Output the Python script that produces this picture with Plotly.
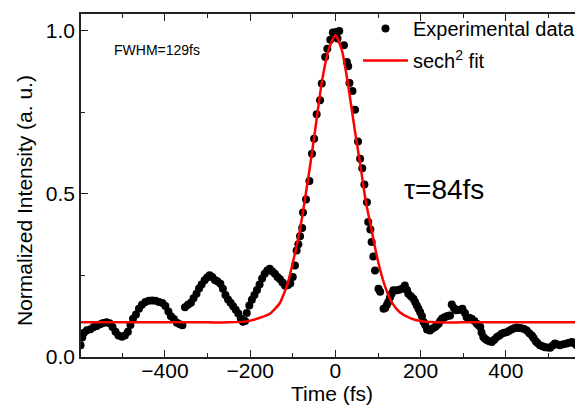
import plotly.graph_objects as go

# Experimental autocorrelation data (time in fs, normalized intensity)
time_fs = [
    -598, -594, -590, -583, -575, -567, -560, -552, -545, -537, -530, -523, -516, -509,
    -501, -494, -487, -481, -475, -468, -461, -454, -446, -438, -430, -422, -414, -406,
    -399, -392, -386, -379, -372, -365, -359, -353, -346, -339, -333, -326, -320, -314,
    -307, -301, -295, -289, -283, -277, -270, -264, -258, -252, -246, -240, -234, -228,
    -222, -217, -212, -208, -202, -196, -190, -184, -178, -172, -166, -160, -154, -148,
    -142, -136, -130, -124, -118, -112, -106, -100, -95, -91, -87, -83, -78,
    -76, -69, -61, -55, -50, -44, -36, -32, -24, -19, -12, -6, 2, 5, 9, 20, 27, 30, 33,
    40, 46, 53, 58, 63, 68, 74, 77, 82, 85, 89, 93, 101, 105, 113, 117, 121, 124, 128,
    132, 136, 144, 150, 156, 163, 168, 171, 177, 183, 187, 191, 195, 199, 203, 207, 211,
    215, 222, 228, 234, 238, 242, 246, 250, 255, 260, 265, 269, 273, 278, 283, 288, 293,
    298, 304, 308, 314, 320, 326, 332, 336, 340, 343, 347, 351, 356, 361, 367, 373, 379,
    385, 390, 396, 402, 408, 414, 420, 426, 431, 437, 443, 449, 455, 461, 465, 470, 474,
    480, 486, 492, 498, 504, 510, 515, 521, 527, 535, 543, 549, 555, 561, 566, 572, 578,
]
intensity = [
    0.036, 0.060, 0.074, 0.082, 0.085, 0.092, 0.095, 0.100, 0.104, 0.106, 0.103, 0.092, 0.077, 0.066,
    0.062, 0.066, 0.077, 0.098, 0.117, 0.130, 0.148, 0.160, 0.168, 0.172, 0.173, 0.172, 0.168, 0.165,
    0.156, 0.139, 0.125, 0.116, 0.105, 0.100, 0.097, 0.152, 0.160, 0.166, 0.180, 0.194, 0.210, 0.222,
    0.235, 0.243, 0.250, 0.245, 0.236, 0.232, 0.224, 0.209, 0.190, 0.176, 0.166, 0.155, 0.145, 0.133,
    0.118, 0.108, 0.110, 0.135, 0.158, 0.175, 0.190, 0.205, 0.222, 0.240, 0.255, 0.265, 0.270, 0.262,
    0.255, 0.245, 0.238, 0.228, 0.218, 0.220, 0.225, 0.245, 0.280, 0.326, 0.345, 0.370, 0.395,
    0.442, 0.482, 0.539, 0.622, 0.668, 0.743, 0.786, 0.837, 0.918, 0.944, 0.971, 0.993, 0.995, 0.975, 0.998, 0.954, 0.903, 0.890, 0.839,
    0.814, 0.757, 0.660, 0.607, 0.578, 0.528, 0.474, 0.413, 0.390, 0.352, 0.308, 0.265, 0.209, 0.200, 0.148, 0.150, 0.160, 0.168, 0.182,
    0.194, 0.204, 0.204, 0.206, 0.209, 0.219, 0.205, 0.194, 0.186, 0.178, 0.168, 0.158, 0.148, 0.137, 0.125, 0.107, 0.097,
    0.084, 0.081, 0.087, 0.092, 0.097, 0.102, 0.110, 0.117, 0.121, 0.124, 0.126, 0.127, 0.161, 0.150, 0.143, 0.144, 0.145,
    0.148, 0.135, 0.122, 0.120, 0.117, 0.110, 0.102, 0.097, 0.092, 0.075, 0.061, 0.056, 0.051, 0.048, 0.046, 0.053, 0.061,
    0.066, 0.071, 0.074, 0.076, 0.080, 0.085, 0.088, 0.090, 0.089, 0.088, 0.086, 0.081, 0.073, 0.066, 0.058, 0.048, 0.043,
    0.036, 0.033, 0.030, 0.029, 0.028, 0.035, 0.041, 0.038, 0.036, 0.039, 0.041, 0.044, 0.046, 0.041, 0.036, 0.030, 0.022,
]

# sech^2 fit curve
fit_time = [-597, -300, -250, -208, -177, -153, -145, -130, -122, -114, -106, -98, -91, -83, -73,
            -60, -48, -32, -16, 0, 15, 29, 46, 60, 71, 85, 93, 101, 109, 117, 132, 151, 174, 199,
            238, 300, 581]
fit_val = [0.106, 0.106, 0.106, 0.109, 0.120, 0.133, 0.143, 0.166, 0.190, 0.217, 0.255, 0.300,
           0.340, 0.390, 0.470, 0.580, 0.690, 0.840, 0.940, 0.985, 0.940, 0.840, 0.690, 0.575,
           0.478, 0.388, 0.335, 0.288, 0.248, 0.214, 0.168, 0.137, 0.120, 0.110, 0.106, 0.106, 0.106]

x_ticks = [-400, -200, 0, 200, 400]
y_ticks = [0.0, 0.5, 1.0]
y_ticklabels = ["0.0", "0.5", "1.0"]

FONT = "Arial, Liberation Sans, sans-serif"

# page body has an 8px default margin; compensate so the plot area lands where the reference has it
PAGE_OFF = 8
PLOT_L, PLOT_T, PLOT_B = 81, 14, 357
PLOT_W = 583 - PLOT_L
PLOT_H = PLOT_B - PLOT_T

fig = go.Figure()
fig.add_trace(go.Scatter(
    x=time_fs, y=intensity, mode="markers", name="Experimental data",
    marker=dict(color="black", size=8), legendgroup="a",
))
fig.add_trace(go.Scatter(
    x=fit_time, y=fit_val, mode="lines", name="sech<sup>2</sup> fit",
    line=dict(color="#ff0000", width=2.5, shape="spline", smoothing=0.6), legendgroup="b",
))

axis_common = dict(
    showline=True, linecolor="#222222", linewidth=1.5, ticks="inside",
    tickcolor="#222222", ticklen=7, tickwidth=1.2, showgrid=False, zeroline=False,
    tickfont=dict(family=FONT, size=21, color="black"),
)
fig.update_xaxes(
    **axis_common, range=[-597, 581], tickvals=x_ticks, mirror="ticks",
    ticklabelstandoff=-6,
    minor=dict(ticks="inside", ticklen=4, dtick=100, tick0=0, tickcolor="#222222", showgrid=False),
    title=dict(text="Time (fs)", font=dict(family=FONT, size=21, color="black"), standoff=0),
)
fig.update_yaxes(
    **axis_common, range=[0, 1.05], tickvals=y_ticks, ticktext=y_ticklabels,
    minor=dict(ticks="inside", ticklen=4, dtick=0.25, tick0=0, tickcolor="#222222", showgrid=False),
)

# y-axis title, placed where the reference has it
fig.add_annotation(text="Normalized Intensity (a. u.)", xref="paper", yref="paper",
                   x=(24 - PLOT_L) / PLOT_W, y=(PLOT_B - 201) / PLOT_H, textangle=-90,
                   xanchor="center", yanchor="middle", showarrow=False,
                   font=dict(family=FONT, size=21, color="black"))
fig.add_annotation(text="FWHM=129fs", xref="paper", yref="paper",
                   x=(112 - PLOT_L) / PLOT_W, y=(PLOT_B - 50) / PLOT_H,
                   xanchor="left", yanchor="middle", showarrow=False,
                   font=dict(family=FONT, size=14, color="black"))
fig.add_annotation(text="τ=84fs", xref="paper", yref="paper",
                   x=(402 - PLOT_L) / PLOT_W, y=(PLOT_B - 189) / PLOT_H,
                   xanchor="left", yanchor="middle", showarrow=False,
                   font=dict(family=FONT, size=28, color="black"))

fig.update_layout(
    width=583 - PAGE_OFF, height=407 - PAGE_OFF,
    margin=dict(l=PLOT_L - PAGE_OFF, r=0, t=PLOT_T - PAGE_OFF, b=407 - PLOT_B),
    paper_bgcolor="white", plot_bgcolor="white",
    legend=dict(x=(358 - PLOT_L) / PLOT_W, y=1.0 + 5 / PLOT_H, xanchor="left", yanchor="top",
                bgcolor="rgba(0,0,0,0)", font=dict(family=FONT, size=20, color="black"),
                itemwidth=45, tracegroupgap=3, traceorder="grouped"),
    showlegend=True,
)

fig.write_html("out.html")
